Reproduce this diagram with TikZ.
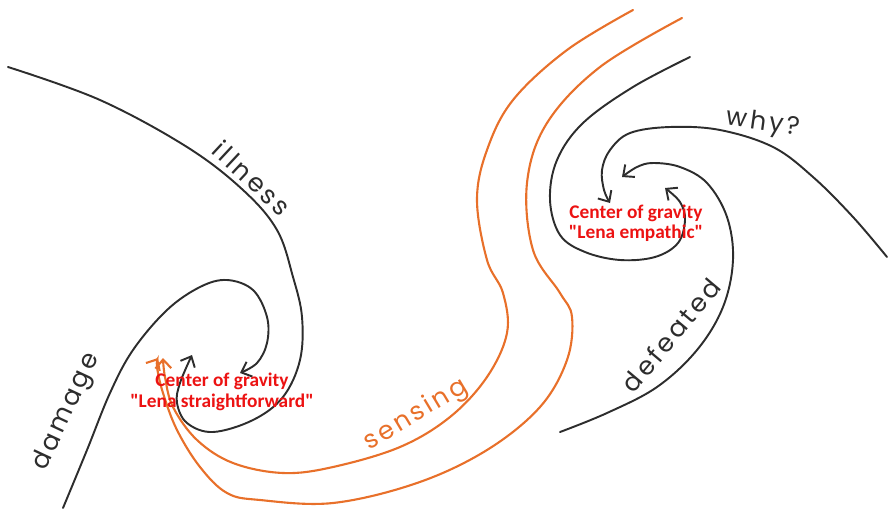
\documentclass[tikz,border=0pt]{standalone}
\usepackage{fontspec}
\usepackage{xcolor}
\usetikzlibrary{arrows.meta}
\newfontfamily\handfont[LetterSpace=12]{Poppins}
\newfontfamily\cogfont{Carlito}
\definecolor{pencil}{RGB}{45,45,45}
\definecolor{sketchorange}{RGB}{232,112,42}
\definecolor{sketchred}{RGB}{236,18,18}

\begin{document}
\begin{tikzpicture}[
    x=0.02cm,y=-0.02cm,
    >={Straight Barb[length=5pt,width=9pt]},
    stroke/.style={line width=1.1pt,pencil,line cap=round},
    sense/.style={line width=1.2pt,sketchorange,line cap=round},
    hand/.style={font=\handfont\fontsize{14.5}{14.5}\selectfont,text=pencil},
    cog/.style={font=\cogfont\bfseries\fontsize{11}{11.6}\selectfont,text=sketchred,align=center},
]
\useasboundingbox (0,0) rectangle (889,514);

% left spiral
\draw[stroke,->] plot[smooth,tension=0.6] coordinates {(8,67) (100,100) (187,147) (243,190) (277,230) (293,277) (302,317) (300,360) (283,397) (253,420) (213,432) (187,423) (177,403) (180,383) (192,355)};
\draw[stroke,->] plot[smooth,tension=0.6] coordinates {(63,508) (87,450) (110,393) (133,350) (167,310) (200,287) (227,280) (253,290) (267,317) (267,343) (257,363) (240,373)};

% sensing band
\draw[sense,->] plot[smooth,tension=0.6] coordinates {(633,10) (567,50) (513,100) (487,150) (477,200) (487,260) (503,293) (507,333) (487,377) (450,417) (400,447) (333,467) (283,473) (233,463) (197,440) (173,407) (165,377) (163,358)};
\draw[sense,->] plot[smooth,tension=0.6] coordinates {(682,18) (600,67) (547,123) (527,183) (533,250) (560,293) (572,317) (567,360) (540,407) (487,450) (417,483) (333,503) (260,500) (227,493) (200,467) (177,430) (163,393) (157,367) (158,358)};

% right spiral
\draw[stroke,->] plot[smooth,tension=0.6] coordinates {(690,57) (633,87) (583,123) (557,160) (550,200) (560,235) (585,252) (620,260) (655,257) (678,243) (685,220) (680,202) (665,188)};
\draw[stroke,->] plot[smooth,tension=0.6] coordinates {(887,257) (853,217) (813,177) (773,147) (720,130) (670,127) (630,133) (610,150) (602,170) (604,190) (610,203)};
\draw[stroke,->] plot[smooth,tension=0.6] coordinates {(560,432) (607,413) (657,387) (697,350) (723,307) (733,260) (727,217) (707,183) (680,167) (653,163) (637,167) (622,177)};

% labels
\node[cog] (straight) at (222,392) {Center of gravity\\"Lena straightforward"};
\node[cog] (empathic) at (636,223) {Center of gravity\\"Lena empathic"};
\node[hand,rotate=-43] (illness) at (252,178) {illness};
\node[hand,rotate=65] (damage) at (67,412) {damage};
\node[hand,rotate=31,text=sketchorange] (sensing) at (416,415) {sensing};
\node[hand,rotate=50] (defeated) at (671,335) {defeated};
\node[hand,rotate=-8] (why) at (763,124) {why?};
\end{tikzpicture}
\end{document}
